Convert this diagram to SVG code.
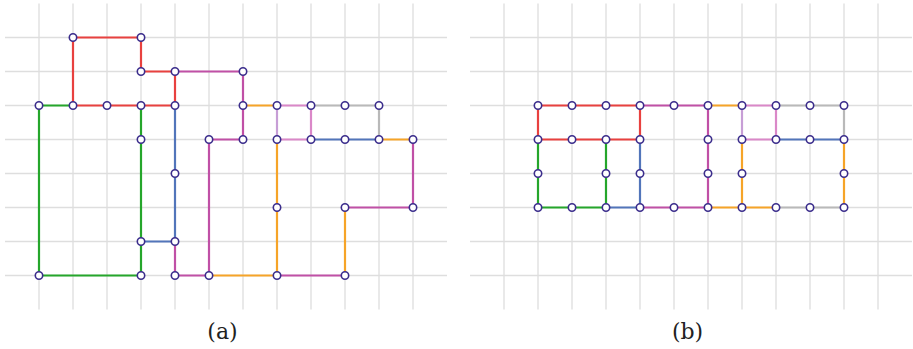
<svg xmlns="http://www.w3.org/2000/svg" width="913" height="349" viewBox="0 0 913 349">
<style>
.grid{stroke:#dedede;stroke-width:1.3;fill:none}
.e{fill:none;stroke-width:2.2;stroke-linejoin:miter}
.red{stroke:#e8413f}.green{stroke:#25a62b}.blue{stroke:#5275ba}.mag{stroke:#c050a6}
.org{stroke:#f6a428}.pink{stroke:#da88c8}.lav{stroke:#c79ed6}.gray{stroke:#b9b9b9}
.n{fill:#fff;stroke:#3b2d8c;stroke-width:1.6}
</style>
<defs>
<circle id="nd" r="3.7" class="n"/>
</defs>
<g id="grid-a" class="grid">
<path d="M5 37.5H447M5 71.5H447M5 105.5H447M5 139.5H447M5 173.5H447M5 207.5H447M5 241.5H447M5 275.5H447"/>
<path d="M39 3.5V309.5M73 3.5V309.5M107 3.5V309.5M141 3.5V309.5M175 3.5V309.5M209 3.5V309.5M243 3.5V309.5M277 3.5V309.5M311 3.5V309.5M345 3.5V309.5M379 3.5V309.5M413 3.5V309.5"/>
</g>
<g id="grid-b" class="grid">
<path d="M470 37.5H912M470 71.5H912M470 105.5H912M470 139.5H912M470 173.5H912M470 207.5H912M470 241.5H912M470 275.5H912"/>
<path d="M504 3.5V309.5M538 3.5V309.5M572 3.5V309.5M606 3.5V309.5M640 3.5V309.5M674 3.5V309.5M708 3.5V309.5M742 3.5V309.5M776 3.5V309.5M810 3.5V309.5M844 3.5V309.5M878 3.5V309.5"/>
</g>
<g id="connectors">
<path class="e red" d="M73 37.5H141V71.5H175V105.5H73Z"/>
<path class="e green" d="M39 105.5H73M39 105.5V275.5H141V105.5"/>
<path class="e blue" d="M175 105.5V241.5H141M311 139.5H379"/>
<path class="e mag" d="M175 71.5H243V139.5H209V275.5H175V241.5M277 275.5H345M345 207.5H413V139.5"/>
<path class="e org" d="M243 105.5H277M209 275.5H277V139.5M345 207.5V275.5M379 139.5H413"/>
<path class="e pink" d="M277 105.5H311V139.5H277"/>
<path class="e lav" d="M277 105.5V139.5"/>
<path class="e gray" d="M311 105.5H379V139.5"/>

<path class="e red" d="M538 105.5H640V139.5H538Z"/>
<path class="e mag" d="M640 105.5H708V207.5H640"/>
<path class="e org" d="M708 105.5H742M742 139.5V207.5M708 207.5H776M844 139.5V207.5"/>
<path class="e pink" d="M742 105.5H776V139.5H742"/>
<path class="e lav" d="M742 105.5V139.5"/>
<path class="e gray" d="M776 105.5H844V139.5M776 207.5H844"/>
<path class="e blue" d="M776 139.5H844M640 139.5V207.5H606"/>
<path class="e green" d="M538 139.5V207.5H606V139.5"/>
</g>
<g id="nodes-a">
<use href="#nd" x="73" y="37.5"/><use href="#nd" x="141" y="37.5"/>
<use href="#nd" x="141" y="71.5"/><use href="#nd" x="175" y="71.5"/><use href="#nd" x="243" y="71.5"/>
<use href="#nd" x="39" y="105.5"/><use href="#nd" x="73" y="105.5"/><use href="#nd" x="107" y="105.5"/><use href="#nd" x="141" y="105.5"/><use href="#nd" x="175" y="105.5"/><use href="#nd" x="243" y="105.5"/><use href="#nd" x="277" y="105.5"/><use href="#nd" x="311" y="105.5"/><use href="#nd" x="345" y="105.5"/><use href="#nd" x="379" y="105.5"/>
<use href="#nd" x="141" y="139.5"/><use href="#nd" x="209" y="139.5"/><use href="#nd" x="243" y="139.5"/><use href="#nd" x="277" y="139.5"/><use href="#nd" x="311" y="139.5"/><use href="#nd" x="345" y="139.5"/><use href="#nd" x="379" y="139.5"/><use href="#nd" x="413" y="139.5"/>
<use href="#nd" x="175" y="173.5"/>
<use href="#nd" x="277" y="207.5"/><use href="#nd" x="345" y="207.5"/><use href="#nd" x="413" y="207.5"/>
<use href="#nd" x="141" y="241.5"/><use href="#nd" x="175" y="241.5"/>
<use href="#nd" x="39" y="275.5"/><use href="#nd" x="141" y="275.5"/><use href="#nd" x="175" y="275.5"/><use href="#nd" x="209" y="275.5"/><use href="#nd" x="277" y="275.5"/><use href="#nd" x="345" y="275.5"/>
</g>
<g id="nodes-b">
<use href="#nd" x="538" y="105.5"/><use href="#nd" x="572" y="105.5"/><use href="#nd" x="606" y="105.5"/><use href="#nd" x="640" y="105.5"/><use href="#nd" x="674" y="105.5"/><use href="#nd" x="708" y="105.5"/><use href="#nd" x="742" y="105.5"/><use href="#nd" x="776" y="105.5"/><use href="#nd" x="810" y="105.5"/><use href="#nd" x="844" y="105.5"/>
<use href="#nd" x="538" y="139.5"/><use href="#nd" x="572" y="139.5"/><use href="#nd" x="606" y="139.5"/><use href="#nd" x="640" y="139.5"/><use href="#nd" x="708" y="139.5"/><use href="#nd" x="742" y="139.5"/><use href="#nd" x="776" y="139.5"/><use href="#nd" x="810" y="139.5"/><use href="#nd" x="844" y="139.5"/>
<use href="#nd" x="538" y="173.5"/><use href="#nd" x="606" y="173.5"/><use href="#nd" x="640" y="173.5"/><use href="#nd" x="708" y="173.5"/><use href="#nd" x="742" y="173.5"/><use href="#nd" x="844" y="173.5"/>
<use href="#nd" x="538" y="207.5"/><use href="#nd" x="572" y="207.5"/><use href="#nd" x="606" y="207.5"/><use href="#nd" x="640" y="207.5"/><use href="#nd" x="674" y="207.5"/><use href="#nd" x="708" y="207.5"/><use href="#nd" x="742" y="207.5"/><use href="#nd" x="776" y="207.5"/><use href="#nd" x="810" y="207.5"/><use href="#nd" x="844" y="207.5"/>
</g>
<g id="labels" font-family="'DejaVu Serif', 'Liberation Serif', serif" font-size="22" fill="#222" text-anchor="middle">
<text x="222.5" y="339">(a)</text>
<text x="687.5" y="339">(b)</text>
</g>
</svg>
